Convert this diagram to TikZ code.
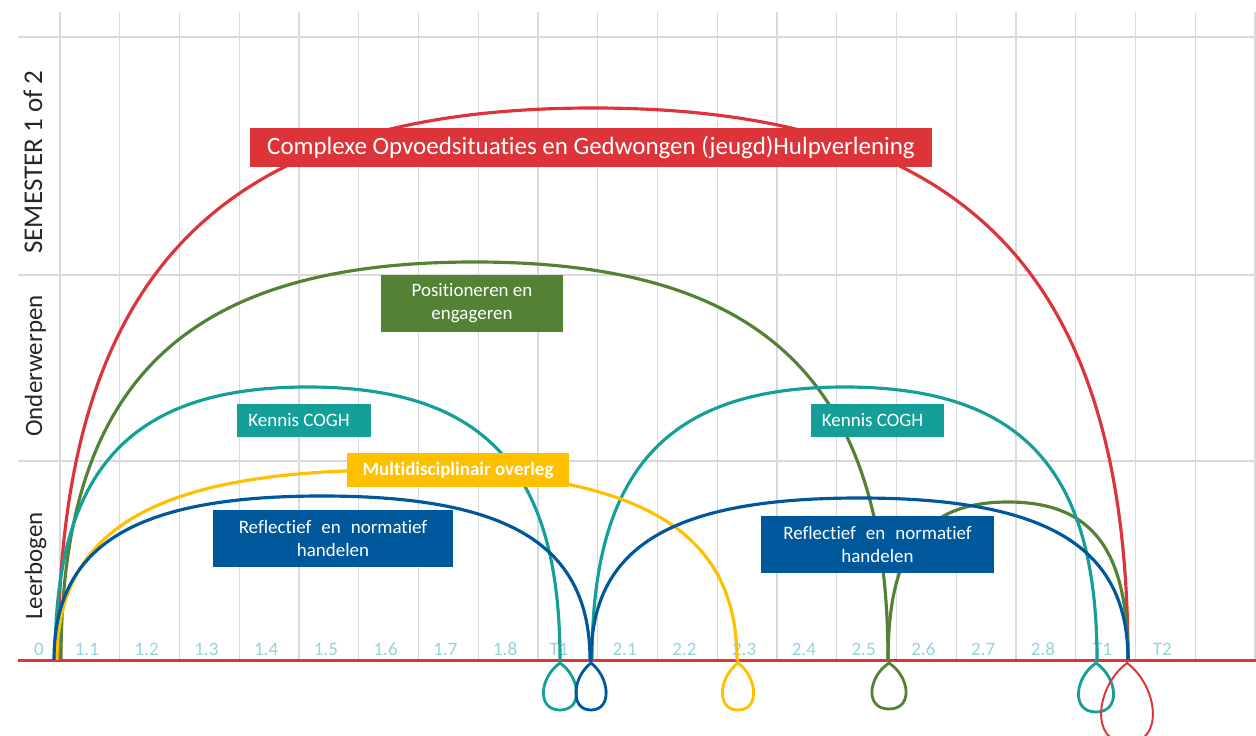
\documentclass[tikz,border=0pt]{standalone}
\usepackage{fontspec}
\setmainfont{Carlito}[Ligatures=NoCommon, Contextuals=NoAlternate]
\definecolor{rood}{RGB}{221,52,58}
\definecolor{groen}{RGB}{84,130,53}
\definecolor{teal}{RGB}{20,160,152}
\definecolor{geel}{RGB}{255,192,0}
\definecolor{blauw}{RGB}{0,88,156}
\definecolor{asblauw}{RGB}{150,213,213}
\tikzset{
  raster/.style={draw=black!15, line width=0.7pt},
  boog/.style={line width=1.8pt},
  vak/.style={text=white, inner sep=0pt, align=center, font=\fontsize{10.8pt}{13pt}\selectfont},
  zijlabel/.style={rotate=90, anchor=base, text=black!85, font=\fontsize{14.2pt}{16pt}\selectfont}
}
\begin{document}
\begin{tikzpicture}[x=0.02cm, y=-0.02cm]
    \useasboundingbox (0,0) rectangle (1256,736);
    \fill[white] (0,0) rectangle (1256,736);
    % raster
    \foreach \k in {0,...,20} {\draw[raster] ({60+59.75*\k},12) -- ({60+59.75*\k},660);}
    \foreach \y in {37,275,461} {\draw[raster] (18,\y) -- (1256,\y);}
    % as
    \foreach \t [count=\i from 0] in {0,1.1,1.2,1.3,1.4,1.5,1.6,1.7,1.8,T1,2.1,2.2,2.3,2.4,2.5,2.6,2.7,2.8,T1,T2} {
      \pgfmathsetmacro\xt{ifthenelse(\i==0,39,ifthenelse(\i==9,559,57+59.75*(\i-0.5)))}
      \node[anchor=base, text=asblauw, inner sep=0pt, font=\fontsize{10.8pt}{13pt}\selectfont] (as\i) at (\xt,655) {\t};
    }
    \draw[rood, line width=1.7pt] (18,660) -- (1256,660);
    % leerbogen
    \foreach \naam/\kleur/\xa/\xb/\yt in {rb/rood/58/1128/108, gb/groen/61/888/262, gk/groen/888/1128/502,
      tl/teal/55/560/387, tr/teal/592/1097/387, ge/geel/57/737/470, bl/blauw/54/590/496, br/blauw/591/1128/498} {
      \coordinate (\naam-l) at (\xa,660);
      \coordinate (\naam-r) at (\xb,660);
      \coordinate (\naam-t) at ({(\xa+\xb)/2},\yt);
      \draw[boog, draw=\kleur] (\naam-l) .. controls +(0,{-0.7*(660-\yt)}) and +({-0.35*(\xb-\xa)},0) .. (\naam-t)
        .. controls +({0.35*(\xb-\xa)},0) and +(0,{-0.7*(660-\yt)}) .. (\naam-r);
    }
    % lussen onder de as
    \foreach \kleur/\x/\w/\h/\lw in {teal/560/17/47/1.6, blauw/591/15.5/47/1.6, geel/738/16/47/1.6,
      groen/889/17.5/46/1.6, teal/1096/18/49/1.6, rood/1127/26.5/80/1.1} {
      \coordinate (lus\x) at (\x,663);
      \coordinate (lusb\x) at (\x,{663+\h});
      \draw[draw=\kleur, line width=\lw pt] (\x,660) -- (lus\x) .. controls +({-1.2*\w},{0.3*\h}) and +({-1.4*\w},0) .. (lusb\x)
        .. controls +({1.4*\w},0) and +({1.2*\w},{0.3*\h}) .. (lus\x);
    }
    % vakken
    \node[vak, fill=rood, minimum width=13.64cm, minimum height=0.78cm, font=\fontsize{14.2pt}{16pt}\selectfont] (titel) at (591,147.5)
      {Complexe Opvoedsituaties en Gedwongen (jeugd)Hulpverlening};
    \node[vak, fill=groen, minimum width=3.64cm, minimum height=1.14cm] (posit) at (472,303.5) {Positioneren en\\engageren};
    \node[vak, fill=teal, minimum width=2.68cm, minimum height=0.66cm] (kennisL) at (304,420.5) {Kennis COGH\hspace{0.2cm}};
    \node[vak, fill=teal, minimum width=2.66cm, minimum height=0.66cm] (kennisR) at (877.5,420.5) {Kennis COGH\hspace{0.2cm}};
    \node[vak, fill=geel, minimum width=4.44cm, minimum height=0.68cm, font=\fontsize{10.8pt}{13pt}\selectfont\bfseries] (multi) at (458,470)
      {Multidisciplinair overleg};
    \node[vak, fill=blauw, minimum width=4.8cm, minimum height=1.14cm] (reflL) at (333,538.5)
      {Reflectief\hspace{0.2cm}en\hspace{0.2cm}normatief\\handelen};
    \node[vak, fill=blauw, minimum width=4.66cm, minimum height=1.14cm] (reflR) at (877.5,544.5)
      {Reflectief\hspace{0.2cm}en\hspace{0.2cm}normatief\\handelen};
    % zijkant
    \node[zijlabel, font=\fontsize{15.4pt}{17pt}\selectfont] (semester) at (42,162) {SEMESTER 1 of 2};
    \node[zijlabel] (onderw) at (42,366) {Onderwerpen};
    \node[zijlabel] (leerb) at (42,566) {Leerbogen};
\end{tikzpicture}
\end{document}
